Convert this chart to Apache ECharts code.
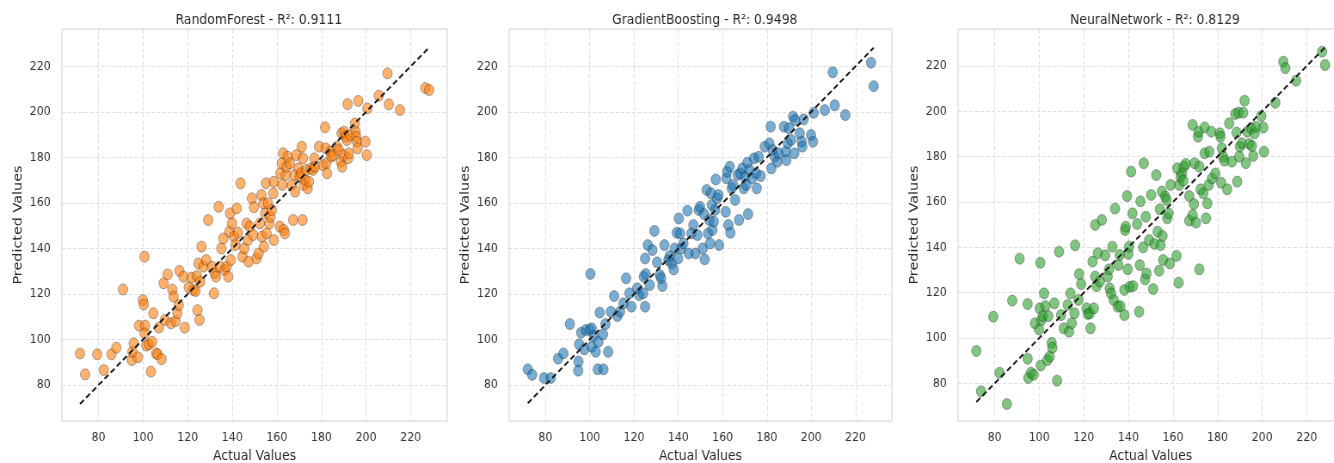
<!DOCTYPE html>
<html>
<head>
<meta charset="utf-8">
<script src="https://cdn.jsdelivr.net/npm/echarts@6/dist/echarts.min.js"></script>
<style>
  html, body { margin: 0; padding: 0; background: #fff; overflow: hidden; }
  /* the reference figure was squeezed horizontally, so draw wide and squash */
  #chart { width: 1552px; height: 463px; transform: scaleX(0.86); transform-origin: 0 0; }
</style>
</head>
<body>
<div id="chart"></div>
<script>
// [actual, predicted]
var rfPoints = [[71.7,93.9],[74.0,84.7],[79.4,93.5],[82.4,86.6],[85.8,93.5],[88.0,96.4],[91.0,122.0],[94.9,91.0],[95.2,94.6],[95.8,98.3],[97.7,92.2],[98.2,106.1],[99.9,117.3],[100.3,115.4],[100.6,136.4],[100.9,106.1],[100.7,102.7],[101.4,97.3],[102.6,97.9],[103.5,85.9],[104.1,99.0],[104.6,111.5],[105.9,93.9],[106.5,93.5],[107.1,105.2],[108.3,91.4],[109.2,124.7],[109.8,108.6],[111.0,128.6],[112.5,107.1],[113.1,122.0],[113.7,118.8],[114.6,108.1],[115.4,111.5],[116.0,115.1],[116.3,130.1],[118.1,127.6],[118.7,105.2],[120.5,122.9],[121.7,127.2],[122.6,121.7],[123.5,121.3],[124.1,127.9],[124.4,112.9],[124.8,133.4],[125.3,108.6],[125.6,125.4],[126.2,140.8],[127.1,132.0],[128.3,134.9],[129.2,152.5],[130.9,132.0],[131.8,120.3],[132.1,129.1],[132.7,127.6],[133.9,158.3],[134.5,132.0],[135.1,140.0],[136.0,144.4],[136.6,130.5],[137.5,132.0],[138.2,127.6],[138.7,147.4],[139.0,155.4],[139.3,134.9],[139.9,151.0],[140.8,145.2],[141.4,141.5],[142.0,157.6],[142.6,146.9],[143.7,168.6],[144.6,136.4],[145.4,140.0],[146.4,151.0],[147.0,143.7],[147.3,134.2],[147.9,149.6],[148.8,162.0],[149.4,145.9],[149.7,158.1],[150.9,135.6],[151.8,137.8],[152.4,151.0],[153.1,163.5],[153.3,145.2],[153.9,159.8],[154.2,140.8],[154.8,155.4],[155.1,168.6],[155.4,146.6],[156.0,159.8],[156.6,151.0],[157.2,153.9],[157.7,156.9],[158.4,164.2],[158.6,169.3],[158.6,143.7],[161.3,149.6],[161.6,173.0],[162.2,177.4],[162.5,167.9],[162.8,181.8],[163.1,148.1],[163.6,146.6],[164.0,172.3],[164.3,175.9],[164.9,180.3],[165.8,177.4],[166.7,167.9],[167.3,152.5],[167.9,172.3],[168.2,164.9],[168.8,181.0],[169.7,175.2],[170.3,171.5],[170.9,173.0],[171.2,184.7],[171.5,152.5],[171.7,179.6],[172.0,167.9],[172.6,170.1],[173.2,174.5],[173.8,166.4],[174.4,169.3],[175.3,175.2],[176.2,174.5],[176.8,179.6],[177.1,175.9],[178.9,184.7],[180.7,176.6],[181.6,193.2],[181.9,184.0],[182.2,177.4],[182.5,173.0],[184.0,182.5],[184.4,180.3],[185.2,181.0],[186.9,184.7],[187.8,183.2],[188.7,178.1],[189.0,190.6],[189.3,175.9],[189.9,181.0],[190.2,191.3],[190.8,189.1],[191.4,187.6],[191.7,203.4],[192.0,179.6],[192.3,181.8],[192.9,189.8],[195.0,194.9],[195.3,191.3],[195.6,189.1],[195.9,186.9],[196.2,184.0],[196.5,204.8],[199.7,186.9],[200.3,181.0],[200.6,201.5],[205.7,207.1],[209.6,216.9],[210.2,203.3],[215.2,200.8],[226.6,210.5],[228.3,209.6]]

var gbPoints = [[72.0,86.9],[74.0,84.5],[79.4,83.1],[82.4,83.1],[85.7,91.6],[88.1,93.9],[91.0,106.8],[94.9,90.3],[94.8,86.3],[95.2,97.9],[96.1,103.0],[97.6,95.7],[98.2,104.2],[100.3,128.8],[100.0,104.2],[100.9,104.9],[100.9,96.8],[101.8,101.5],[102.7,94.6],[103.6,86.9],[103.9,99.0],[104.5,111.8],[106.0,102.3],[106.2,86.9],[107.1,106.8],[108.3,94.6],[109.5,112.2],[111.0,119.1],[112.5,110.3],[113.7,112.2],[115.2,115.9],[116.4,126.9],[117.9,120.3],[118.8,114.4],[121.4,122.5],[122.3,119.5],[124.1,120.3],[124.4,127.6],[125.0,114.4],[125.0,135.6],[125.3,128.8],[126.2,141.5],[127.1,123.9],[128.3,139.3],[129.2,147.7],[130.4,133.9],[131.6,128.3],[132.2,126.9],[132.8,123.5],[133.7,141.5],[135.5,134.9],[136.1,136.7],[137.0,133.4],[137.9,130.8],[138.4,140.0],[139.3,146.9],[139.9,135.6],[140.2,153.2],[140.8,146.6],[141.4,140.0],[142.3,142.2],[144.1,156.6],[144.7,137.8],[145.9,146.6],[146.8,150.3],[147.7,137.8],[148.6,145.9],[149.2,156.9],[149.8,158.3],[151.0,140.0],[151.6,155.1],[151.9,135.2],[152.8,165.7],[153.4,146.6],[154.0,152.5],[154.3,142.2],[154.8,164.2],[155.1,159.1],[155.4,148.1],[156.0,151.8],[156.6,156.9],[156.9,170.3],[157.5,162.0],[158.1,163.5],[158.4,141.5],[161.4,156.1],[161.7,170.8],[162.0,173.7],[162.6,150.3],[163.2,175.9],[163.5,146.9],[164.1,166.4],[164.7,167.9],[165.6,161.3],[166.8,172.3],[167.4,152.5],[168.0,173.0],[168.9,175.2],[169.5,166.4],[170.1,171.5],[170.7,167.9],[171.2,177.7],[171.5,155.1],[172.1,174.5],[173.3,170.8],[174.2,179.6],[175.1,173.0],[175.4,166.4],[176.3,180.3],[177.2,171.8],[179.0,184.7],[181.1,186.2],[181.7,193.5],[182.0,175.2],[182.6,183.2],[183.5,180.3],[184.7,178.1],[185.3,181.8],[187.7,193.5],[188.5,182.5],[188.8,178.8],[189.4,186.2],[190.0,192.8],[190.9,187.6],[191.8,197.9],[192.4,181.8],[192.7,196.4],[194.8,190.6],[195.7,186.9],[196.0,184.7],[196.6,196.7],[199.9,189.8],[200.8,186.9],[201.1,199.6],[206.1,200.8],[209.7,217.4],[210.6,202.9],[215.4,198.6],[227.0,221.6],[228.2,211.3]]

var nnPoints = [[71.8,94.3],[73.9,76.5],[79.4,109.4],[82.2,84.7],[85.5,70.9],[87.9,116.5],[91.2,135.0],[94.8,90.9],[94.8,115.0],[95.1,82.4],[96.3,84.7],[97.5,83.8],[98.1,106.5],[99.9,103.8],[100.2,113.1],[100.5,133.2],[100.7,87.9],[101.0,107.9],[101.6,109.7],[102.2,119.7],[102.8,114.1],[103.7,90.3],[104.1,109.7],[104.7,91.8],[105.6,97.9],[105.9,95.7],[106.8,115.3],[108.0,81.2],[108.9,138.1],[109.8,110.1],[111.0,104.3],[112.8,114.6],[113.4,102.8],[114.0,119.7],[114.6,106.5],[115.8,110.9],[116.1,140.9],[117.6,116.8],[117.9,128.2],[118.8,123.8],[121.2,113.1],[121.8,110.6],[122.7,110.9],[123.0,104.3],[123.9,133.7],[124.5,113.1],[125.1,149.9],[125.1,127.1],[125.7,122.9],[126.3,137.4],[127.2,124.9],[128.1,152.1],[129.6,136.5],[130.7,127.1],[131.3,130.3],[131.6,121.9],[132.2,119.7],[132.8,140.3],[133.4,116.8],[134.0,157.1],[135.2,113.8],[135.5,132.2],[136.1,136.6],[136.4,114.1],[138.2,110.1],[138.2,121.2],[138.5,147.6],[138.8,149.1],[139.4,162.6],[139.7,130.3],[140.0,137.1],[140.3,140.3],[140.6,122.6],[141.2,173.4],[141.8,155.0],[142.1,122.9],[143.9,150.3],[144.8,111.6],[145.1,132.2],[145.4,160.3],[146.6,140.0],[146.9,177.1],[147.5,125.9],[147.8,153.5],[148.1,128.5],[149.3,143.2],[150.2,163.1],[151.1,121.6],[151.7,141.5],[152.5,171.9],[153.1,146.9],[153.8,129.7],[154.1,156.8],[154.4,141.0],[155.0,164.6],[155.3,145.0],[155.6,134.4],[156.5,162.4],[157.1,160.9],[157.4,152.8],[158.0,155.0],[158.6,132.9],[158.9,167.5],[161.6,136.2],[161.9,174.9],[162.5,124.4],[162.8,167.5],[163.4,171.2],[164.0,172.6],[164.6,169.4],[164.9,175.6],[165.8,176.8],[167.3,162.6],[167.3,151.8],[168.8,154.3],[168.8,194.0],[169.4,159.1],[169.7,177.1],[170.3,150.9],[171.2,188.8],[171.5,191.0],[171.8,130.3],[171.8,175.6],[172.4,165.6],[173.6,163.8],[174.2,192.9],[174.2,181.5],[174.8,152.8],[175.4,159.4],[176.0,167.5],[176.3,182.2],[177.2,191.0],[177.5,170.4],[179.0,172.6],[181.0,190.3],[181.3,188.8],[181.6,168.5],[181.9,183.7],[182.5,180.0],[183.1,178.2],[184.3,165.6],[185.2,194.7],[186.4,177.8],[187.9,198.8],[188.5,190.6],[188.8,169.0],[189.4,199.4],[189.7,180.0],[190.0,184.4],[190.9,185.9],[191.5,199.4],[192.1,204.7],[192.7,177.1],[193.3,191.0],[194.2,185.6],[195.1,192.5],[195.4,184.7],[196.0,180.3],[196.6,190.3],[197.2,193.2],[199.6,197.9],[200.5,192.9],[200.8,182.2],[205.9,203.8],[209.5,221.9],[210.4,219.0],[215.2,213.5],[226.9,226.3],[228.2,220.4]]

var titles = ['RandomForest - R²: 0.9111', 'GradientBoosting - R²: 0.9498', 'NeuralNetwork - R²: 0.8129']
var colors = ['#ff7f0e', '#1f77b4', '#2ca02c']
var tickValues = [80, 100, 120, 140, 160, 180, 200, 220]
var xRange = [63.6, 236.4]
var yRanges = [[64.2, 236.4], [64.2, 236.4], [63.4, 236.3]]

var panels = [rfPoints, gbPoints, nnPoints]
// in the unsquashed (1552 wide) frame
var grids = [
  { left: 72, top: 29, width: 448, height: 392 },
  { left: 592, top: 29, width: 445, height: 392 },
  { left: 1114, top: 29, width: 448, height: 392 }
]

var font = 'DejaVu Sans'

function axisBase(name, gap, idx, range, margin) {
  return {
    type: 'value',
    gridIndex: idx,
    min: range[0],
    max: range[1],
    name: name,
    nameLocation: 'middle',
    nameGap: gap,
    nameTextStyle: { fontFamily: font, fontSize: 14.4, color: '#2a2a2a' },
    axisLine: { show: false },
    axisTick: { show: false, customValues: tickValues },
    axisLabel: { customValues: tickValues, fontFamily: font, fontSize: 12.8, color: '#333', margin: margin },
    splitLine: { show: true, lineStyle: { color: '#dedede', width: 1, type: [4, 2.5] } }
  }
}

var option = {
  animation: false,
  backgroundColor: '#fff',
  title: grids.map(function (g, i) {
    return {
      text: titles[i],
      left: g.left + g.width / 2,
      top: 8,
      textAlign: 'center',
      textStyle: { fontFamily: font, fontSize: 14.4, fontWeight: 'normal', color: '#2a2a2a' }
    }
  }),
  grid: grids.map(function (g) {
    return Object.assign({
      show: true, borderColor: '#cfcfcf', borderWidth: 1, backgroundColor: 'transparent',
      containLabel: false, outerBoundsMode: 'none'
    }, g)
  }),
  xAxis: grids.map(function (g, i) { return axisBase('Actual Values', 26, i, xRange, 10) }),
  yAxis: grids.map(function (g, i) { return axisBase('Predicted Values', 44, i, yRanges[i], 13) }),
  series: []
}

panels.forEach(function (pts, i) {
  var xs = pts.map(function (p) { return p[0] })
  var lo = Math.min.apply(null, xs)
  var hi = Math.max.apply(null, xs)
  option.series.push({
    type: 'scatter',
    xAxisIndex: i,
    yAxisIndex: i,
    data: pts,
    symbolSize: 11,
    silent: true,
    itemStyle: { color: colors[i], opacity: 0.6, borderColor: '#222', borderWidth: 0.6 }
  })
  option.series.push({
    type: 'line',
    xAxisIndex: i,
    yAxisIndex: i,
    data: [[lo, lo], [hi, hi]],
    symbol: 'none',
    silent: true,
    z: 5,
    lineStyle: { color: '#1a1a1a', width: 2, type: [6, 3.5] }
  })
})

var chart = echarts.init(document.getElementById('chart'))
chart.setOption(option)
</script>
</body>
</html>
